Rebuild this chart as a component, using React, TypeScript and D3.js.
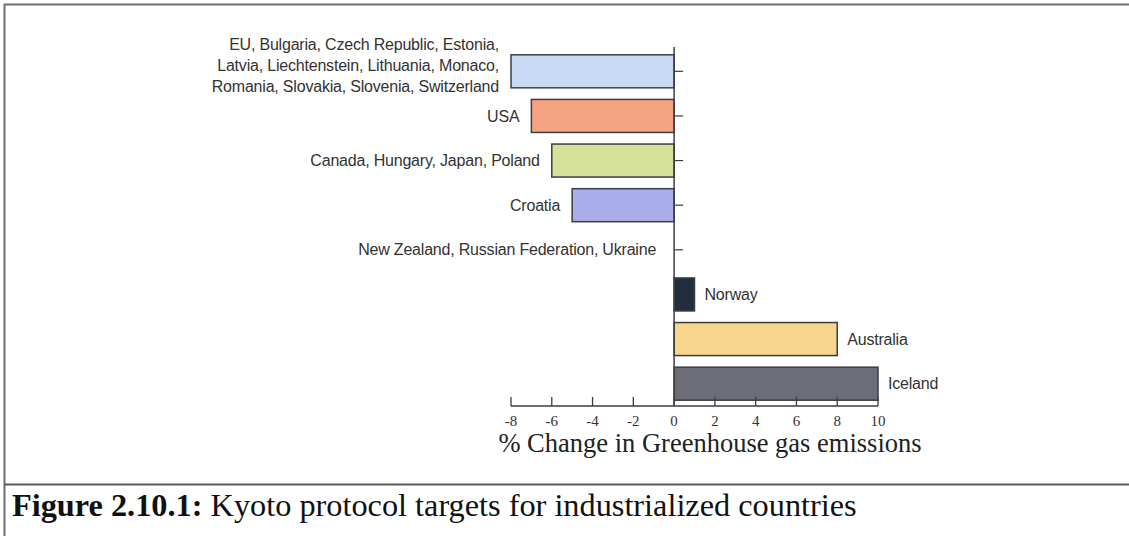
import React from "react";
import * as d3 from "d3";

const categories: string[][] = [
  ["EU, Bulgaria, Czech Republic, Estonia,", "Latvia, Liechtenstein, Lithuania, Monaco,", "Romania, Slovakia, Slovenia, Switzerland"],
  ["USA"],
  ["Canada, Hungary, Japan, Poland"],
  ["Croatia"],
  ["New Zealand, Russian Federation, Ukraine"],
  ["Norway"],
  ["Australia"],
  ["Iceland"],
];
const values: number[] = [-8, -7, -6, -5, 0, 1, 8, 10];
const colors: string[] = ["#c8d9f4", "#f6a383", "#d5e19a", "#a9adea", "#ffffff", "#222d3d", "#f6d68c", "#6d6d78"];
const xTicks: number[] = [-8, -6, -4, -2, 0, 2, 4, 6, 8, 10];
const axisTitle = "% Change in Greenhouse gas emissions";
const captionBold = "Figure 2.10.1:";
const captionRest = " Kyoto protocol targets for industrialized countries";

export default function App() {
  const W = 1129, H = 536;
  const x = d3.scaleLinear().domain([-8, 10]).range([511, 878]);
  const ids = categories.map((_, i) => String(i));
  const y = d3.scaleBand<string>().domain(ids).range([49, 406]).paddingInner(0.26).paddingOuter(0.13);
  const axisY = 406;
  const labelFont = "'Liberation Sans', Arial, sans-serif";
  const serif = "'Liberation Serif', 'Times New Roman', serif";
  const stroke = "#3d3d45";

  return (
    <svg width={W} height={H} style={{ position: "absolute", left: 0, top: 0, background: "#fff" }}>
      {/* frame */}
      <line x1={4} x2={W} y1={4.5} y2={4.5} stroke="#6b6f75" strokeWidth={2} />
      <line x1={4.5} x2={4.5} y1={4} y2={H} stroke="#6b6f75" strokeWidth={2} />
      <line x1={4} x2={W} y1={484.5} y2={484.5} stroke="#5a5a5a" strokeWidth={2} />

      {/* category ticks on the zero line */}
      {ids.map((id) => (
        <line key={"t" + id} x1={x(0)} x2={x(0) + 9} y1={y(id)! + y.bandwidth() / 2} y2={y(id)! + y.bandwidth() / 2} stroke={stroke} strokeWidth={1.2} />
      ))}

      {/* bars */}
      {ids.map((id, i) => {
        const v = values[i];
        if (v === 0) return null;
        const x0 = x(Math.min(0, v));
        const x1 = x(Math.max(0, v));
        return (
          <rect key={"b" + id} x={x0} y={y(id)!} width={x1 - x0} height={y.bandwidth()} fill={colors[i]} stroke={stroke} strokeWidth={1.5} />
        );
      })}

      {/* zero line */}
      <line x1={x(0)} x2={x(0)} y1={47} y2={axisY} stroke={stroke} strokeWidth={1.5} />

      {/* category labels */}
      {ids.map((id, i) => {
        const v = values[i];
        const cy = y(id)! + y.bandwidth() / 2;
        const lines = categories[i];
        const lh = 21;
        const neg = v <= 0;
        const tx = neg ? x(v) - (v === 0 ? 18 : 12) : x(v) + 10;
        const top = cy - ((lines.length - 1) * lh) / 2 - (lines.length > 1 ? 6 : 0);
        return (
          <text key={"l" + id} x={tx} textAnchor={neg ? "end" : "start"} fontFamily={labelFont} fontSize={16} fill="#333" letterSpacing={-0.2}>
            {lines.map((ln, k) => (
              <tspan key={k} x={tx} y={top + k * lh} dy="0.35em">{ln}</tspan>
            ))}
          </text>
        );
      })}

      {/* x axis */}
      <line x1={x(-8)} x2={x(10)} y1={axisY} y2={axisY} stroke={stroke} strokeWidth={1.5} />
      {xTicks.map((t) => (
        <g key={"x" + t}>
          <line x1={x(t)} x2={x(t)} y1={axisY} y2={axisY - 9} stroke={stroke} strokeWidth={1.3} />
          <text x={x(t)} y={axisY + 15} dy="0.35em" textAnchor="middle" fontFamily={serif} fontSize={15} fill="#333">{String(t)}</text>
        </g>
      ))}
      <text x={710} y={452} textAnchor="middle" fontFamily={serif} fontSize={26.5} fill="#222">{axisTitle}</text>

      {/* caption */}
      <text x={12} y={516} fontFamily={serif} fontSize={32.3} fill="#111">
        <tspan fontWeight="bold">{captionBold}</tspan>
        <tspan>{captionRest}</tspan>
      </text>
    </svg>
  );
}
